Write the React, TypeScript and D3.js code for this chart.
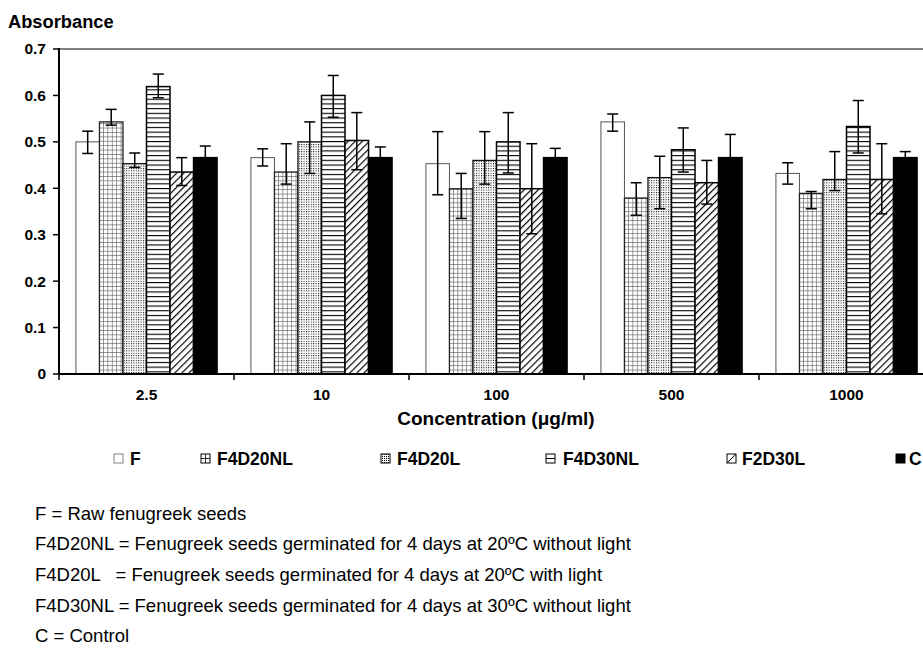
import React from 'react';
import * as d3 from 'd3';

const categories = ['2.5', '10', '100', '500', '1000'];
const seriesNames = ['F', 'F4D20NL', 'F4D20L', 'F4D30NL', 'F2D30L', 'C'];

// mean absorbance per series (one value per concentration)
const meanF = [0.5, 0.466, 0.453, 0.543, 0.432];
const meanF4D20NL = [0.543, 0.435, 0.399, 0.379, 0.389];
const meanF4D20L = [0.453, 0.5, 0.46, 0.423, 0.419];
const meanF4D30NL = [0.619, 0.6, 0.5, 0.483, 0.533];
const meanF2D30L = [0.435, 0.503, 0.399, 0.412, 0.419];
const meanC = [0.466, 0.466, 0.466, 0.466, 0.466];

// upper end of error bars
const hiF = [0.523, 0.485, 0.522, 0.56, 0.455];
const hiF4D20NL = [0.57, 0.496, 0.432, 0.412, 0.393];
const hiF4D20L = [0.476, 0.543, 0.522, 0.469, 0.479];
const hiF4D30NL = [0.646, 0.643, 0.563, 0.53, 0.589];
const hiF2D30L = [0.466, 0.563, 0.496, 0.46, 0.496];
const hiC = [0.491, 0.489, 0.486, 0.516, 0.479];

// lower end of error bars
const loF = [0.475, 0.448, 0.386, 0.523, 0.409];
const loF4D20NL = [0.536, 0.409, 0.335, 0.342, 0.356];
const loF4D20L = [0.445, 0.432, 0.409, 0.356, 0.395];
const loF4D30NL = [0.595, 0.553, 0.433, 0.435, 0.476];
const loF2D30L = [0.406, 0.44, 0.302, 0.366, 0.345];
const loC = [0.441, 0.443, 0.446, 0.416, 0.453];

const yTicks = [0, 0.1, 0.2, 0.3, 0.4, 0.5, 0.6, 0.7];
const yTickLabels = ['0', '0.1', '0.2', '0.3', '0.4', '0.5', '0.6', '0.7'];

const yTitle = 'Absorbance';
const xTitle = 'Concentration (\u03bcg/ml)';

const notes = [
  'F = Raw fenugreek seeds',
  'F4D20NL = Fenugreek seeds germinated for 4 days at 20\u00baC without light',
  'F4D20L   = Fenugreek seeds germinated for 4 days at 20\u00baC with light',
  'F4D30NL = Fenugreek seeds germinated for 4 days at 30\u00baC without light',
  'C = Control',
];

const means = [meanF, meanF4D20NL, meanF4D20L, meanF4D30NL, meanF2D30L, meanC];
const his = [hiF, hiF4D20NL, hiF4D20L, hiF4D30NL, hiF2D30L, hiC];
const los = [loF, loF4D20NL, loF4D20L, loF4D30NL, loF2D30L, loC];

const fills = ['#fff', 'url(#pGrid)', 'url(#pDots)', 'url(#pHLines)', 'url(#pDiag)', '#000'];
const strokes = ['#555', '#222', '#111', '#000', '#000', '#000'];
const strokeWs = [1, 1.3, 1.3, 1.5, 1.5, 1.5];

const legendSwatchX = [114, 201, 381, 546, 727, 896];
const legendTextX = [130, 217, 397, 563, 742, 909];

const FONT = '"Liberation Sans", Arial, Helvetica, sans-serif';

function Swatch({ i, x, y }: { i: number; x: number; y: number }) {
  const s = 9;
  const box = (
    <rect
      x={x}
      y={y}
      width={s}
      height={s}
      fill={i === 5 ? '#000' : i === 2 ? 'url(#pDotsL)' : '#fff'}
      stroke={i === 0 ? '#666' : '#000'}
      strokeWidth={i === 0 ? 0.8 : 1}
    />
  );
  let inner: React.ReactNode = null;
  if (i === 1) {
    inner = <path d={`M${x + s / 2} ${y}V${y + s}M${x} ${y + s / 2}H${x + s}`} stroke="#000" strokeWidth={0.8} />;
  } else if (i === 3) {
    inner = <path d={`M${x} ${y + s / 2}H${x + s}`} stroke="#000" strokeWidth={1} />;
  } else if (i === 4) {
    inner = <path d={`M${x} ${y + s}L${x + s} ${y}`} stroke="#000" strokeWidth={1} />;
  }
  return (
    <g>
      {box}
      {inner}
    </g>
  );
}

export default function App() {
  const W = 923;
  const H = 659;
  const x = d3.scaleBand<string>().domain(categories).range([59, 934]).paddingInner(0).paddingOuter(0);
  const xi = d3
    .scaleBand<string>()
    .domain(seriesNames)
    .range([0, x.bandwidth()])
    .paddingInner(0)
    .paddingOuter(0.72);
  const y = d3.scaleLinear().domain([0, 0.7]).range([374, 49]);
  const bw = xi.bandwidth();
  const capHalf = 5.5;
  const boundaries = d3.range(categories.length + 1).map((k) => 59 + k * x.step());

  return (
    <svg width={W} height={H} style={{ position: 'absolute', left: 0, top: 0, background: '#fff' }} fontFamily={FONT}>
      <defs>
        <pattern id="pGrid" patternUnits="userSpaceOnUse" width={4.4} height={4.4}>
          <rect width={4.4} height={4.4} fill="#fff" />
          <path d="M0 0.4H4.4M0.4 0V4.4" stroke="#666" strokeWidth={0.7} />
        </pattern>
        <pattern id="pDots" patternUnits="userSpaceOnUse" width={2.4} height={2.4}>
          <rect width={2.4} height={2.4} fill="#fff" />
          <rect width={1} height={1} fill="#000" />
        </pattern>
        <pattern id="pDotsL" patternUnits="userSpaceOnUse" width={2} height={2}>
          <rect width={2} height={2} fill="#fff" />
          <rect width={1} height={1} fill="#000" />
        </pattern>
        <pattern id="pHLines" patternUnits="userSpaceOnUse" width={10} height={4.7}>
          <rect width={10} height={4.7} fill="#fff" />
          <rect y={0} width={10} height={1.1} fill="#000" />
        </pattern>
        <pattern id="pDiag" patternUnits="userSpaceOnUse" width={5} height={5} patternTransform="rotate(45)">
          <rect width={5} height={5} fill="#fff" />
          <rect x={0} y={0} width={1.2} height={5} fill="#000" />
        </pattern>
      </defs>

      {/* y axis title */}
      <text x={8} y={28} fontSize={18.3} fontWeight="bold">
        {yTitle}
      </text>

      {/* top frame line */}
      <line x1={59} x2={W} y1={49} y2={49} stroke="#000" strokeWidth={1} />

      {/* bars */}
      {categories.map((c, ci) => (
        <g key={c} transform={`translate(${x(c)},0)`}>
          {seriesNames.map((s, si) => {
            const v = means[si][ci];
            const bx = xi(s) as number;
            return (
              <rect
                key={s}
                x={bx}
                y={y(v)}
                width={bw}
                height={y(0) - y(v)}
                fill={fills[si]}
                stroke={strokes[si]}
                strokeWidth={strokeWs[si]}
              />
            );
          })}
          {seriesNames.map((s, si) => {
            const cx = (xi(s) as number) + bw / 2;
            const yh = y(his[si][ci]);
            const yl = y(los[si][ci]);
            return (
              <g key={'e' + s} stroke="#000" strokeWidth={1.5}>
                <line x1={cx} x2={cx} y1={yh} y2={yl} />
                <line x1={cx - capHalf} x2={cx + capHalf} y1={yh} y2={yh} />
                <line x1={cx - capHalf} x2={cx + capHalf} y1={yl} y2={yl} />
              </g>
            );
          })}
        </g>
      ))}

      {/* y axis */}
      <line x1={59} x2={59} y1={48} y2={375} stroke="#000" strokeWidth={2} />
      {yTicks.map((t, i) => (
        <g key={t}>
          <line x1={53} x2={59} y1={y(t)} y2={y(t)} stroke="#000" strokeWidth={1.5} />
          <text x={46} y={y(t)} dy="0.35em" textAnchor="end" fontSize={15.5} fontWeight="bold">
            {yTickLabels[i]}
          </text>
        </g>
      ))}

      {/* x axis */}
      <line x1={58} x2={W} y1={374} y2={374} stroke="#000" strokeWidth={2} />
      {boundaries.map((bx, i) => (
        <line key={i} x1={bx} x2={bx} y1={374} y2={380} stroke="#000" strokeWidth={1.5} />
      ))}
      {categories.map((c) => (
        <text key={c} x={(x(c) as number) + x.bandwidth() / 2} y={400} textAnchor="middle" fontSize={15.5} fontWeight="bold">
          {c}
        </text>
      ))}
      <text x={496} y={425} textAnchor="middle" fontSize={19} fontWeight="bold">
        {xTitle}
      </text>

      {/* legend */}
      {seriesNames.map((s, i) => (
        <g key={s}>
          <Swatch i={i} x={legendSwatchX[i]} y={454} />
          <text x={legendTextX[i]} y={464.5} fontSize={17.5} fontWeight="bold">
            {s}
          </text>
        </g>
      ))}

      {/* notes */}
      {notes.map((n, i) => (
        <text key={i} x={35} y={519.5 + i * 30.7} fontSize={18.5} style={{ whiteSpace: 'pre' }}>
          {n}
        </text>
      ))}
    </svg>
  );
}
